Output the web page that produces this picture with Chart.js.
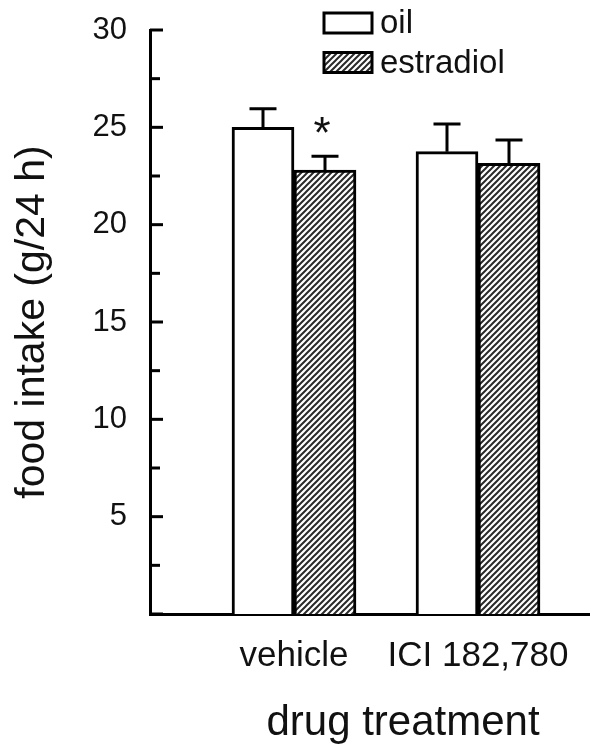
<!DOCTYPE html>
<html><head><meta charset="utf-8">
<script src="https://cdn.jsdelivr.net/npm/chart.js@4"></script>
<style>html,body{margin:0;padding:0;background:#fff}#wrap{width:590px;height:751px;position:relative}</style>
</head><body><div id="wrap"><canvas id="c" width="590" height="751"></canvas></div>
<script>
// ---- data ----
const categories = ['vehicle', 'ICI 182,780'];
const seriesNames = ['oil', 'estradiol'];
const oilMeans = [25.0, 23.75];
const oilSEM = [0.95, 1.42];
const estradiolMeans = [22.8, 23.15];
const estradiolSEM = [0.72, 1.2];
const oilMarks = ['', ''];
const estradiolMarks = ['*', ''];
const yTickLabels = ['5', '10', '15', '20', '25', '30'];
const xTitle = 'drug treatment';
const yTitle = 'food intake (g/24 h)';

const FONT = "'Liberation Sans', Arial, Helvetica, sans-serif";
const TEXT = '#111';

function makeHatch() {
  const s = 6;
  const c = document.createElement('canvas');
  c.width = s; c.height = s;
  const g = c.getContext('2d');
  g.fillStyle = '#fff'; g.fillRect(0, 0, s, s);
  g.strokeStyle = '#2a2a2a'; g.lineWidth = 2;
  g.beginPath();
  g.moveTo(-1, s + 1); g.lineTo(s + 1, -1);
  g.moveTo(-1, 1); g.lineTo(1, -1);
  g.moveTo(s - 1, s + 1); g.lineTo(s + 1, s - 1);
  g.stroke();
  return g.createPattern(c, 'repeat');
}
const hatch = makeHatch();

const overlay = {
  id: 'overlay',
  afterDatasetsDraw(chart) {
    const ctx = chart.ctx, y = chart.scales.y;
    chart.data.datasets.forEach((ds, di) => {
      const meta = chart.getDatasetMeta(di);
      meta.data.forEach((bar, i) => {
        const base = y.getPixelForValue(ds.data[i]);
        const top = y.getPixelForValue(ds.data[i] + ds.errors[i]);
        ctx.save();
        ctx.strokeStyle = '#000'; ctx.lineWidth = 3;
        ctx.beginPath();
        ctx.moveTo(bar.x, base); ctx.lineTo(bar.x, top);
        ctx.moveTo(bar.x - 13.5, top); ctx.lineTo(bar.x + 13.5, top);
        ctx.stroke();
        if (ds.marks[i]) {
          ctx.fillStyle = TEXT;
          ctx.font = '44px ' + FONT;
          ctx.textAlign = 'center'; ctx.textBaseline = 'alphabetic';
          ctx.fillText(ds.marks[i], bar.x - 3, top - 8);
        }
        ctx.restore();
      });
    });
  },
  afterDraw(chart) {
    const ctx = chart.ctx, y = chart.scales.y, area = chart.chartArea;
    ctx.save();
    // inward tick marks
    ctx.strokeStyle = '#000'; ctx.lineWidth = 3;
    y.ticks.forEach(t => {
      const py = y.getPixelForValue(t.value);
      const len = (t.value % 5 === 0) ? 13 : 10;
      ctx.beginPath();
      ctx.moveTo(area.left, py); ctx.lineTo(area.left + len, py);
      ctx.stroke();
    });
    // legend
    chart.data.datasets.forEach((ds, i) => {
      const bx = area.left + 174, by = 13 + i * 39.5, bw = 48, bh = 20;
      ctx.fillStyle = ds.backgroundColor;
      ctx.fillRect(bx, by, bw, bh);
      ctx.strokeStyle = '#000'; ctx.lineWidth = 3;
      ctx.strokeRect(bx, by, bw, bh);
      ctx.fillStyle = TEXT;
      ctx.font = '33px ' + FONT;
      ctx.textAlign = 'left'; ctx.textBaseline = 'middle';
      ctx.fillText(ds.label, bx + bw + 8, by + bh / 2 + 1);
    });
    // x axis title
    ctx.fillStyle = TEXT;
    ctx.font = '42px ' + FONT;
    ctx.textAlign = 'center'; ctx.textBaseline = 'alphabetic';
    ctx.fillText(xTitle, (area.left + area.right) / 2 + 33, area.bottom + 121);
    ctx.restore();
  }
};

new Chart(document.getElementById('c'), {
  type: 'bar',
  data: {
    labels: categories.map((_, i) => i + 1),
    datasets: [
      { label: seriesNames[0], data: oilMeans, errors: oilSEM, marks: oilMarks,
        backgroundColor: '#ffffff', borderColor: '#000', borderWidth: 3 },
      { label: seriesNames[1], data: estradiolMeans, errors: estradiolSEM, marks: estradiolMarks,
        backgroundColor: hatch, borderColor: '#000', borderWidth: 3 }
    ]
  },
  options: {
    responsive: false,
    animation: false,
    devicePixelRatio: 1,
    barThickness: 62,
    layout: { padding: { top: 30, left: 0, right: 0, bottom: 0 } },
    plugins: { legend: { display: false }, tooltip: { enabled: false } },
    scales: {
      x: {
        type: 'linear', min: 0.2174, max: 2.6087, z: 1, offset: false,
        afterBuildTicks: s => { s.ticks = categories.map((_, i) => ({ value: i + 1 })); },
        afterFit: s => { s.height = 137; s.paddingLeft = 0; s.paddingRight = 0; },
        grid: { display: false, drawTicks: false, offset: false },
        border: { display: true, color: '#000', width: 3 },
        ticks: { padding: 21, color: TEXT, font: { family: FONT, size: 35 },
                 callback: v => categories[v - 1] ?? '' , maxRotation: 0, autoSkip: false }
      },
      y: {
        min: 0, max: 30, z: 1,
        afterFit: s => { s.width = 150; s.paddingTop = 0; s.paddingBottom = 0; },
        grid: { display: false, drawTicks: false },
        border: { display: true, color: '#000', width: 3 },
        ticks: { stepSize: 2.5, padding: 23, color: TEXT, font: { family: FONT, size: 31 },
                 callback: v => (v > 0 && v % 5 === 0) ? yTickLabels[v / 5 - 1] : '' },
        title: { display: true, text: yTitle, color: TEXT, font: { family: FONT, size: 41 },
                 padding: { top: 8, bottom: 0 } }
      }
    }
  },
  plugins: [overlay]
});
</script>
</body></html>
